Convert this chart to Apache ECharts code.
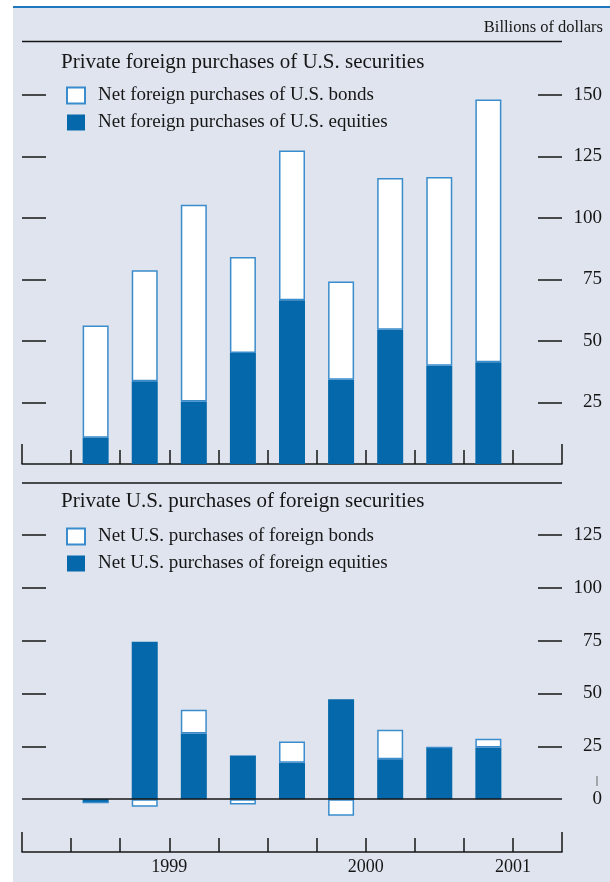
<!DOCTYPE html>
<html><head><meta charset="utf-8">
<script src="https://cdn.jsdelivr.net/npm/echarts@6/dist/echarts.min.js"></script>
<style>html,body{margin:0;padding:0;background:#fff}#c{width:610px;height:882px}</style>
</head><body><div id="c"></div>
<script>
// Quarterly categories (first and last are empty padding quarters on the axis)
const categories = ['1998:Q4','1999:Q1','1999:Q2','1999:Q3','1999:Q4','2000:Q1','2000:Q2','2000:Q3','2000:Q4','2001:Q1','2001:Q2'];

// Top panel: private foreign purchases of U.S. securities (billions of dollars)
const topEquities = [null, 10.7, 33.6, 25.4, 45.1, 66.6, 34.2, 54.6, 39.9, 41.4, null];
const topBonds    = [null, 45.6, 45.2, 80.0, 39.0, 60.8, 40.0, 61.7, 76.8, 106.8, null];

// Bottom panel: private U.S. purchases of foreign securities (billions of dollars)
const bottomEquities = [null, -1.6, 74.5, 31.1, 20.7, 17.2, 47.3, 18.9, 24.5, 24.5, null];
const bottomBonds    = [null, 0, -3.6, 11.2, -2.5, 10.1, -7.9, 13.9, 0, 4.1, null];

// Tick values / labels
const topTickValues = [25, 50, 75, 100, 125, 150];
const topLabelValues = [25, 50, 75, 100, 125, 150];
const bottomTickValues = [25, 50, 75, 100, 125];
const bottomLabelValues = [0, 25, 50, 75, 100, 125];
const yearLabels = ['1999', '2000', '2001'];
const yearBoundaries = [3, 7, 10];

const SERIF = 'Liberation Serif';
const EQ = '#0468aa';
const BOND_BORDER = '#3a8ccc';
const INK = '#161616';

const chart = echarts.init(document.getElementById('c'), null, {renderer: 'canvas'});

function catAxis(gi) {
  return {
    type: 'category', gridIndex: gi, data: categories, boundaryGap: true, position: 'bottom',
    axisLine: {show: true, onZero: false, lineStyle: {color: INK, width: 1.5}},
    axisTick: {show: true, inside: true, length: 14, interval: 0, lineStyle: {color: INK, width: 1.5}},
    axisLabel: {show: false}, splitLine: {show: false}
  };
}
function endAxis(gi, withLabels) {
  return {
    type: 'value', gridIndex: gi, min: 0, max: categories.length, position: 'bottom',
    axisLine: {show: false, onZero: false},
    axisTick: {show: true, inside: true, length: 20, customValues: [0, categories.length], lineStyle: {color: INK, width: 1.5}},
    axisLabel: withLabels ? {
      show: true, customValues: yearBoundaries, margin: 6,
      formatter: v => yearLabels[yearBoundaries.indexOf(v)] || '',
      fontFamily: SERIF, fontSize: 18, color: INK
    } : {show: false},
    splitLine: {show: false}
  };
}
function yAx(gi, pos, min, max, ticks, labels) {
  return {
    type: 'value', gridIndex: gi, position: pos, min: min, max: max, interval: 25,
    axisLine: {show: false},
    axisTick: {show: true, inside: true, length: 24, customValues: ticks, lineStyle: {color: INK, width: 1.5}},
    axisLabel: labels ? {show: true, customValues: labels, align: 'right', margin: 40,
      fontFamily: SERIF, fontSize: 19, color: INK} : {show: false},
    splitLine: {show: false}
  };
}

const bondStyle = {color: '#ffffff', borderColor: BOND_BORDER, borderWidth: 1.5};
const eqStyle = {color: EQ};
const legendText = {fontFamily: SERIF, fontSize: 19, color: INK, padding: [0, 0, 0, 8], lineHeight: 18};

const option = {
  backgroundColor: '#dfe4ef',
  animation: false,
  grid: [
    {left: 22, right: 48, top: 95, height: 369},
    {left: 22, right: 48, top: 535, height: 317}
  ],
  xAxis: [catAxis(0), endAxis(0, false), catAxis(1), endAxis(1, true)],
  yAxis: [
    yAx(0, 'left', 0, 150, topTickValues, null),
    yAx(0, 'right', 0, 150, topTickValues, topLabelValues),
    yAx(1, 'left', -25, 125, bottomTickValues, null),
    yAx(1, 'right', -25, 125, bottomTickValues, bottomLabelValues)
  ],
  legend: [
    {data: ['Net foreign purchases of U.S. bonds', 'Net foreign purchases of U.S. equities'],
     orient: 'vertical', left: 66, top: 86, padding: 0, icon: 'rect', itemWidth: 18, itemHeight: 16, itemGap: 8,
     selectedMode: false, textStyle: legendText},
    {data: ['Net U.S. purchases of foreign bonds', 'Net U.S. purchases of foreign equities'],
     orient: 'vertical', left: 66, top: 527, padding: 0, icon: 'rect', itemWidth: 18, itemHeight: 16, itemGap: 8,
     selectedMode: false, textStyle: legendText}
  ],
  graphic: [
    {type: 'rect', shape: {x: 0, y: 0, width: 13, height: 882}, style: {fill: '#ffffff'}, silent: true},
    {type: 'rect', shape: {x: 0, y: 0, width: 610, height: 6}, style: {fill: '#ffffff'}, silent: true},
    {type: 'line', shape: {x1: 13, y1: 7, x2: 610, y2: 7}, style: {stroke: '#1f78bd', lineWidth: 2}, silent: true},
    {type: 'line', shape: {x1: 22, y1: 41.5, x2: 562, y2: 41.5}, style: {stroke: INK, lineWidth: 1.5}, silent: true},
    {type: 'line', shape: {x1: 22, y1: 483, x2: 562, y2: 483}, style: {stroke: INK, lineWidth: 1.5}, silent: true},
    {type: 'line', shape: {x1: 597, y1: 776, x2: 597, y2: 786}, style: {stroke: '#666', lineWidth: 1}, silent: true},
    {type: 'text', x: 603, y: 28, style: {text: 'Billions of dollars', fill: INK, font: '16.5px "Liberation Serif"', textAlign: 'right', textVerticalAlign: 'middle'}, silent: true},
    {type: 'text', x: 61, y: 62, style: {text: 'Private foreign purchases of U.S. securities', fill: INK, font: '21px "Liberation Serif"', textAlign: 'left', textVerticalAlign: 'middle'}, silent: true},
    {type: 'text', x: 61, y: 501, style: {text: 'Private U.S. purchases of foreign securities', fill: INK, font: '21px "Liberation Serif"', textAlign: 'left', textVerticalAlign: 'middle'}, silent: true}
  ],
  series: [
    {name: 'Net foreign purchases of U.S. equities', type: 'bar', stack: 'top', xAxisIndex: 0, yAxisIndex: 0,
     barWidth: 26, data: topEquities, itemStyle: eqStyle},
    {name: 'Net foreign purchases of U.S. bonds', type: 'bar', stack: 'top', xAxisIndex: 0, yAxisIndex: 0,
     barWidth: 26, data: topBonds, itemStyle: bondStyle},
    {name: 'Net U.S. purchases of foreign equities', type: 'bar', stack: 'bot', xAxisIndex: 2, yAxisIndex: 2,
     barWidth: 26, data: bottomEquities, itemStyle: eqStyle,
     markLine: {silent: true, symbol: 'none', label: {show: false}, data: [{yAxis: 0}],
       lineStyle: {color: INK, width: 1.5, type: 'solid'}}},
    {name: 'Net U.S. purchases of foreign bonds', type: 'bar', stack: 'bot', xAxisIndex: 2, yAxisIndex: 2,
     barWidth: 26, data: bottomBonds, itemStyle: bondStyle}
  ]
};
chart.setOption(option);
</script></body></html>
